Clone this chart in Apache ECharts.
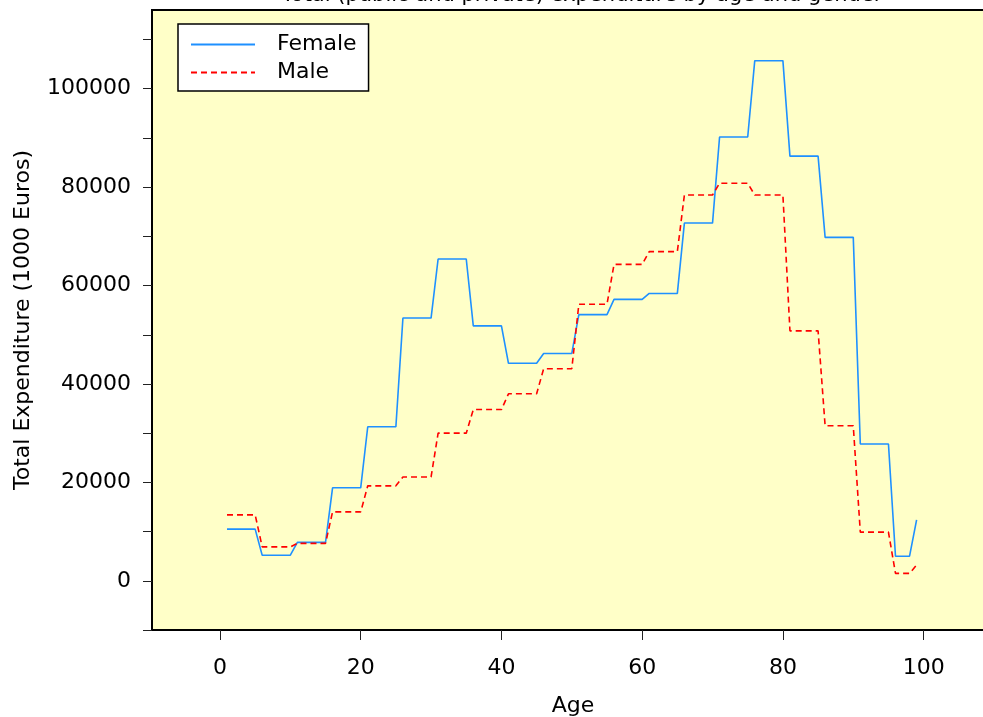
<!DOCTYPE html>
<html>
<head>
<meta charset="utf-8">
<script src="https://cdn.jsdelivr.net/npm/echarts@6/dist/echarts.min.js"></script>
<style>
html,body{margin:0;padding:0;background:#fff;}
#chart{width:983px;height:717px;}
</style>
</head>
<body>
<div id="chart"></div>
<script>
// ages where each 5-year band starts / ends (values flat inside a band)
var ages = [1,5,6,10,11,15,16,20,21,25,26,30,31,35,36,40,41,45,46,50,
            51,55,56,60,61,65,66,70,71,75,76,80,81,85,86,90,91,95,96,98,99];
var female = [10500,10500, 5200,5200, 7800,7800, 18900,18900, 31300,31300,
              53400,53400, 65400,65400, 51800,51800, 44200,44200, 46200,46200,
              54100,54100, 57200,57200, 58400,58400, 72700,72700, 90200,90200,
              105700,105700, 86300,86300, 69800,69800, 27800,27800, 5000,5000, 12400];
var male = [13400,13400, 6900,6900, 7600,7600, 14000,14000, 19300,19300,
            21100,21100, 30000,30000, 34800,34800, 38000,38000, 43100,43100,
            56200,56200, 64300,64300, 66900,66900, 78400,78400, 80800,80800,
            78400,78400, 50800,50800, 31500,31500, 9900,9900, 1500,1500, 3200];
var xTicks = [0,20,40,60,80,100];
var yTicks = [-10000,0,10000,20000,30000,40000,50000,60000,70000,80000,90000,100000,110000];
var yLabels = [0,20000,40000,60000,80000,100000];

var font = 'DejaVu Sans';
var chart = echarts.init(document.getElementById('chart'));
var option = {
    animation:false,
    textStyle:{fontFamily:font},
    title:{
        text:'Total (public and private) expenditure by age and gender',
        left:577, textAlign:'center', top:-20,
        textStyle:{fontFamily:font,fontSize:21,fontWeight:'normal',color:'#000'}
    },
    legend:{
        orient:'vertical', left:178, top:24,
        data:['Female','Male'],
        itemWidth:64, itemHeight:14, itemGap:3,
        padding:[8,12,6,12],
        itemStyle:{opacity:0},
        backgroundColor:'#fff', borderColor:'#000', borderWidth:1.5,
        textStyle:{fontFamily:font,fontSize:22,color:'#000',lineHeight:25,padding:[0,0,0,17]}
    },
    grid:{
        left:152, top:10, right:-11, bottom:87,
        outerBoundsMode:'none',
        show:true, backgroundColor:'#FFFFC8', borderColor:'#000', borderWidth:2
    },
    xAxis:{
        type:'value', min:-9.66, max:110,
        name:'Age', nameLocation:'middle', nameGap:65,
        nameTextStyle:{fontFamily:font,fontSize:22,color:'#000'},
        axisLine:{show:true,onZero:false,lineStyle:{color:'#000',width:2}},
        axisTick:{show:true,length:10,customValues:xTicks,lineStyle:{color:'#222'}},
        axisLabel:{customValues:xTicks,margin:27,fontFamily:font,fontSize:22,color:'#000'},
        splitLine:{show:false}
    },
    yAxis:{
        type:'value', min:-10000, max:116000,
        name:'Total Expenditure (1000 Euros)', nameLocation:'middle', nameGap:118,
        nameTextStyle:{fontFamily:font,fontSize:22,color:'#000'},
        axisLine:{show:true,onZero:false,lineStyle:{color:'#000',width:2}},
        axisTick:{show:true,length:9,customValues:yTicks,lineStyle:{color:'#222'}},
        axisLabel:{customValues:yLabels,margin:21,fontFamily:font,fontSize:22,color:'#000',
            formatter:function(v){return String(v);}},
        splitLine:{show:false}
    },
    series:[
        {
            name:'Female', type:'line', symbol:'none',
            lineStyle:{color:'#1E90FF',width:1.6},
            itemStyle:{color:'#1E90FF'},
            data:ages.map(function(a,i){return [a,female[i]];})
        },
        {
            name:'Male', type:'line', symbol:'none',
            lineStyle:{color:'#FF0000',width:1.6,type:[6,4]},
            itemStyle:{color:'#FF0000'},
            data:ages.map(function(a,i){return [a,male[i]];})
        }
    ]
};
chart.setOption(option);
</script>
</body>
</html>
